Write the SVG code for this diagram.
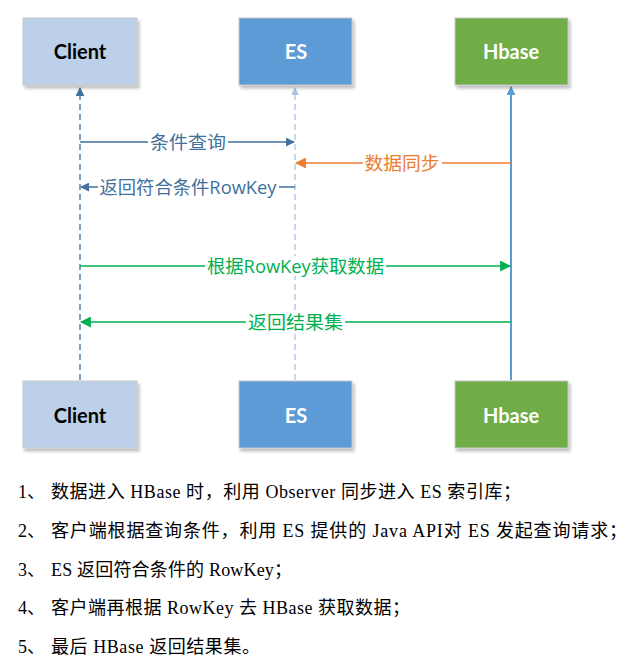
<svg xmlns="http://www.w3.org/2000/svg" width="634" height="671" viewBox="0 0 634 671">
<defs>
<filter id="sh" x="-10%" y="-10%" width="130%" height="130%">
<feDropShadow dx="2" dy="3" stdDeviation="1.5" flood-color="#000" flood-opacity="0.25"/>
</filter>
<marker id="aDark" viewBox="0 0 10 10" refX="9" refY="5" markerWidth="9" markerHeight="9" orient="auto-start-reverse" markerUnits="userSpaceOnUse"><path d="M0,0 L10,5 L0,10 z" fill="#41719c"/></marker>
<marker id="aLight" viewBox="0 0 10 10" refX="9" refY="5" markerWidth="8" markerHeight="8" orient="auto-start-reverse" markerUnits="userSpaceOnUse"><path d="M0,0 L10,5 L0,10 z" fill="#a9c4e6"/></marker>
<marker id="aBlue" viewBox="0 0 10 10" refX="9" refY="5" markerWidth="9" markerHeight="9" orient="auto-start-reverse" markerUnits="userSpaceOnUse"><path d="M0,0 L10,5 L0,10 z" fill="#5b9bd5"/></marker>
<marker id="aOrange" viewBox="0 0 10 10" refX="9" refY="5" markerWidth="11" markerHeight="11" orient="auto-start-reverse" markerUnits="userSpaceOnUse"><path d="M0,0 L10,5 L0,10 z" fill="#ed7d31"/></marker>
<marker id="aGreen" viewBox="0 0 10 10" refX="9" refY="5" markerWidth="11" markerHeight="11" orient="auto-start-reverse" markerUnits="userSpaceOnUse"><path d="M0,0 L10,5 L0,10 z" fill="#00b050"/></marker>
</defs>
<style>
.box{stroke:#c8c8c8;stroke-width:1;filter:url(#sh)}
.bt{font-family:Lato,"Open Sans","Liberation Sans",sans-serif;font-weight:bold;font-size:20px;text-anchor:middle;dominant-baseline:central}
.lbl{font-family:"Open Sans","Noto Sans CJK SC",sans-serif;font-size:18px;text-anchor:middle;dominant-baseline:central}
.bg{fill:#fff}
.desc{font-family:"Liberation Serif","Noto Sans CJK SC",serif;font-size:18px;fill:#000}
</style>
<rect width="634" height="671" fill="#fff"/>
<g id="connectors">
<line x1="80" y1="380" x2="80" y2="88" stroke="#41719c" stroke-width="1.3" stroke-dasharray="6,4" marker-end="url(#aDark)"/>
<line x1="295" y1="380" x2="295" y2="88" stroke="#a9c4e6" stroke-width="1.3" stroke-dasharray="6,4" marker-end="url(#aLight)"/>
<line x1="511" y1="380" x2="511" y2="87" stroke="#5b9bd5" stroke-width="2" marker-end="url(#aBlue)"/>
<g id="e1">
<line x1="80" y1="142" x2="294" y2="142" stroke="#41719c" stroke-width="1.3" marker-end="url(#aDark)"/>
<rect class="bg" x="148" y="132" width="80" height="20"/>
<text class="lbl" x="188" y="142" fill="#41719c" textLength="76" lengthAdjust="spacingAndGlyphs">条件查询</text>
</g>
<g id="e2">
<line x1="511" y1="163" x2="296" y2="163" stroke="#ed7d31" stroke-width="1.3" marker-end="url(#aOrange)"/>
<rect class="bg" x="363" y="153" width="79" height="20"/>
<text class="lbl" x="402" y="163" fill="#ed7d31" textLength="75" lengthAdjust="spacingAndGlyphs">数据同步</text>
</g>
<g id="e3">
<line x1="295" y1="187" x2="81" y2="187" stroke="#41719c" stroke-width="1.3" marker-end="url(#aDark)"/>
<rect class="bg" x="98" y="177" width="181" height="20"/>
<text class="lbl" x="188" y="187" fill="#41719c" textLength="177" lengthAdjust="spacingAndGlyphs">返回符合条件RowKey</text>
</g>
<g id="e4">
<line x1="80" y1="266" x2="510" y2="266" stroke="#00b050" stroke-width="1.3" marker-end="url(#aGreen)"/>
<rect class="bg" x="205" y="256" width="181" height="20"/>
<text class="lbl" x="295.5" y="266" fill="#00b050" textLength="177" lengthAdjust="spacingAndGlyphs">根据RowKey获取数据</text>
</g>
<g id="e5">
<line x1="511" y1="322" x2="81" y2="322" stroke="#00b050" stroke-width="1.3" marker-end="url(#aGreen)"/>
<rect class="bg" x="246" y="312" width="99" height="20"/>
<text class="lbl" x="295.5" y="322" fill="#00b050" textLength="95" lengthAdjust="spacingAndGlyphs">返回结果集</text>
</g>
</g>
<g id="client-top"><rect class="box" x="23" y="18" width="114" height="67" fill="#bdd0e9"/><text class="bt" x="80" y="51" fill="#000">Client</text></g>
<g id="es-top"><rect class="box" x="239" y="18" width="113" height="67" fill="#5b9bd5"/><text class="bt" x="296" y="51" fill="#fff">ES</text></g>
<g id="hbase-top"><rect class="box" x="455" y="18" width="113" height="67" fill="#70ad47"/><text class="bt" x="511" y="51" fill="#fff">Hbase</text></g>
<g id="client-bottom"><rect class="box" x="23" y="381" width="114" height="67" fill="#bdd0e9"/><text class="bt" x="80" y="415" fill="#000">Client</text></g>
<g id="es-bottom"><rect class="box" x="239" y="381" width="113" height="67" fill="#5b9bd5"/><text class="bt" x="296" y="415" fill="#fff">ES</text></g>
<g id="hbase-bottom"><rect class="box" x="455" y="381" width="113" height="67" fill="#70ad47"/><text class="bt" x="511" y="415" fill="#fff">Hbase</text></g>
<g id="notes">
<text class="desc" x="18" y="498">1、</text><text class="desc" x="51" y="498" textLength="470" lengthAdjust="spacing">数据进入 HBase 时，利用 Observer 同步进入 ES 索引库；</text>
<text class="desc" x="18" y="537">2、</text><text class="desc" x="51" y="537" textLength="576" lengthAdjust="spacing">客户端根据查询条件，利用 ES 提供的 Java  API对 ES 发起查询请求；</text>
<text class="desc" x="18" y="576">3、</text><text class="desc" x="51" y="576" textLength="241" lengthAdjust="spacing">ES 返回符合条件的 RowKey；</text>
<text class="desc" x="18" y="614">4、</text><text class="desc" x="51" y="614" textLength="359" lengthAdjust="spacing">客户端再根据 RowKey 去 HBase 获取数据；</text>
<text class="desc" x="18" y="653">5、</text><text class="desc" x="51" y="653" textLength="209" lengthAdjust="spacing">最后 HBase 返回结果集。</text>
</g>
</svg>
